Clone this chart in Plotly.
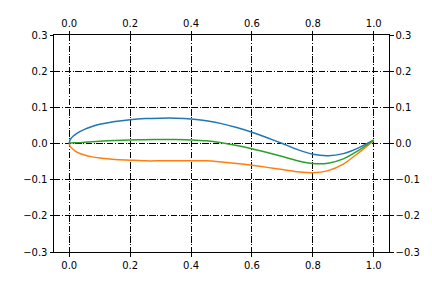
import plotly.graph_objects as go

x_pts = [0, 0.002, 0.005, 0.0125, 0.025, 0.05, 0.075, 0.1, 0.15, 0.2, 0.25, 0.3, 0.35, 0.4,
         0.45, 0.5, 0.55, 0.6, 0.65, 0.7, 0.75, 0.8, 0.85, 0.9, 0.95, 1.0]
upper = [0, 0.008, 0.013, 0.020, 0.028, 0.039, 0.047, 0.053, 0.061, 0.066, 0.069, 0.070, 0.070, 0.068,
         0.063, 0.055, 0.044, 0.031, 0.016, 0.000, -0.017, -0.030, -0.034, -0.028, -0.012, 0.010]
lower = [0, -0.006, -0.010, -0.016, -0.024, -0.032, -0.037, -0.040, -0.044, -0.046, -0.048, -0.048, -0.048, -0.048,
         -0.048, -0.051, -0.055, -0.060, -0.066, -0.072, -0.078, -0.081, -0.075, -0.057, -0.026, 0.008]
camber = [0, 0.001, 0.0015, 0.002, 0.002, 0.0035, 0.005, 0.0065, 0.0085, 0.010, 0.0105, 0.011, 0.011, 0.010,
          0.0075, 0.002, -0.0055, -0.0145, -0.025, -0.036, -0.0475, -0.0555, -0.0545, -0.0425, -0.019, 0.009]

x_ticks = [0, 0.2, 0.4, 0.6, 0.8, 1.0]
x_labels = ["0.0", "0.2", "0.4", "0.6", "0.8", "1.0"]
y_ticks = [-0.3, -0.2, -0.1, 0.0, 0.1, 0.2, 0.3]
y_labels = ["\u22120.3", "\u22120.2", "\u22120.1", "0.0", "0.1", "0.2", "0.3"]
x_range = [-0.05, 1.05]
y_range = [-0.3, 0.3]

fig = go.Figure()
for ys, col in [(upper, "#1f77b4"), (lower, "#ff7f0e"), (camber, "#2ca02c")]:
    fig.add_trace(go.Scatter(x=x_pts, y=ys, mode="lines",
                             line=dict(color=col, width=1.5, shape="spline", smoothing=0.6)))
# invisible trace to activate secondary axes
fig.add_trace(go.Scatter(x=[x_range[0]], y=[y_range[0]], xaxis="x2", yaxis="y2", mode="markers",
                         marker=dict(opacity=0), hoverinfo="skip"))

font = dict(family="DejaVu Sans", size=10, color="black")
common = dict(showline=True, linecolor="black", linewidth=1, ticks="outside", ticklen=3.5,
              tickwidth=1, tickcolor="black", tickfont=font, zeroline=False)
grid = dict(showgrid=True, gridcolor="black", griddash="6.4px,1.6px,1px,1.6px", gridwidth=1)

fig.update_layout(
    width=432, height=288,
    margin=dict(l=54, r=43, t=35, b=36),
    paper_bgcolor="white", plot_bgcolor="white",
    showlegend=False,
    xaxis=dict(range=x_range, tickvals=x_ticks, ticktext=x_labels, mirror=True, **grid, **common),
    yaxis=dict(range=y_range, tickvals=y_ticks, ticktext=y_labels, mirror=True, **grid, **common),
    xaxis2=dict(range=x_range, tickvals=x_ticks, ticktext=x_labels, overlaying="x", side="top",
                anchor="y", showgrid=False, **common),
    yaxis2=dict(range=y_range, tickvals=y_ticks, ticktext=y_labels, overlaying="y", side="right",
                anchor="x", showgrid=False, **common),
)

fig.write_html("out.html")
